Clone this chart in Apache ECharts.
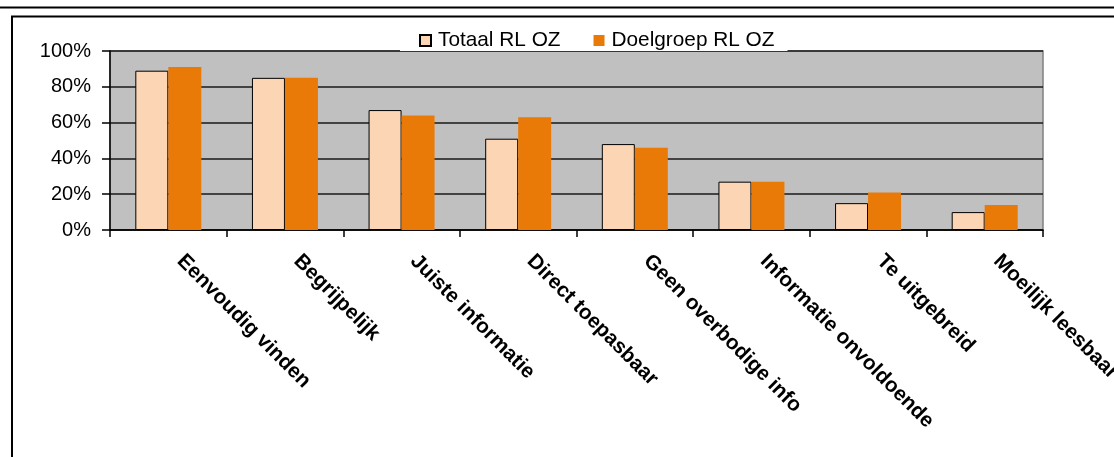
<!DOCTYPE html>
<html>
<head>
<meta charset="utf-8">
<script src="https://cdn.jsdelivr.net/npm/echarts@6/dist/echarts.min.js"></script>
<style>
html,body{margin:0;padding:0;background:#fff;}
#chart{width:1114px;height:457px;}
</style>
</head>
<body>
<div id="chart"></div>
<script>
const categories = ['Eenvoudig vinden','Begrijpelijk','Juiste informatie','Direct toepasbaar','Geen overbodige info','Informatie onvoldoende','Te uitgebreid','Moeilijk leesbaar'];
const seriesNames = ['Totaal RL OZ','Doelgroep RL OZ'];
const totaal = [89, 85, 67, 51, 48, 27, 15, 10];
const doelgroep = [91, 85, 64, 63, 46, 27, 21, 14];
const yTicks = [0, 20, 40, 60, 80, 100];

const chart = echarts.init(document.getElementById('chart'), null, {renderer:'canvas'});
const fontFam = '"Liberation Sans", Arial, sans-serif';
chart.setOption({
  animation:false,
  backgroundColor:'#fff',
  textStyle:{fontFamily:fontFam},
  graphic:[
    {type:'line', shape:{x1:0,y1:7.5,x2:1114,y2:7.5}, style:{stroke:'#000',lineWidth:2}, z:10},
    {type:'line', shape:{x1:11,y1:16.5,x2:1114,y2:16.5}, style:{stroke:'#000',lineWidth:2}, z:10},
    {type:'line', shape:{x1:12,y1:16,x2:12,y2:457}, style:{stroke:'#000',lineWidth:2}, z:10}
  ],
  legend:{
    data:seriesNames,
    left:400, top:30,
    padding:[0,13,0,19],
    backgroundColor:'#fff',
    itemWidth:11, itemHeight:11, itemGap:33,
    icon:'rect',
    textStyle:{fontSize:20.8, color:'#000', fontFamily:fontFam, padding:[0,0,0,2], lineHeight:21},
    z:5
  },
  grid:{
    left:110, right:71, top:51, bottom:227,
    outerBoundsMode:'none', containLabel:false,
    show:true, backgroundColor:'#C0C0C0', borderColor:'#808080', borderWidth:1.5
  },
  xAxis:{
    type:'category',
    data:categories,
    axisLine:{lineStyle:{color:'#000',width:1.5}},
    axisTick:{show:true, length:7, lineStyle:{color:'#000',width:1.5}},
    axisLabel:{rotate:-45, interval:0, margin:40, verticalAlign:'bottom', lineHeight:34,
      fontSize:20.8, fontWeight:'bold', color:'#000', fontFamily:fontFam}
  },
  yAxis:{
    type:'value', min:yTicks[0], max:yTicks[yTicks.length-1], interval:20,
    axisLine:{show:true, lineStyle:{color:'#000',width:1.5}},
    axisTick:{show:true, length:8, lineStyle:{color:'#000',width:1.5}},
    axisLabel:{formatter:'{value}%', fontSize:20, color:'#000', margin:19, fontFamily:fontFam},
    splitLine:{show:true, lineStyle:{color:'#1a1a1a', width:1.5}}
  },
  series:[
    {name:seriesNames[0], type:'bar', data:totaal, barWidth:33, barGap:'0%',
     itemStyle:{color:'#FCD5B5', borderColor:'#000', borderWidth:1}},
    {name:seriesNames[1], type:'bar', data:doelgroep, barWidth:33,
     itemStyle:{color:'#E97A08'}}
  ]
});
</script>
</body>
</html>
